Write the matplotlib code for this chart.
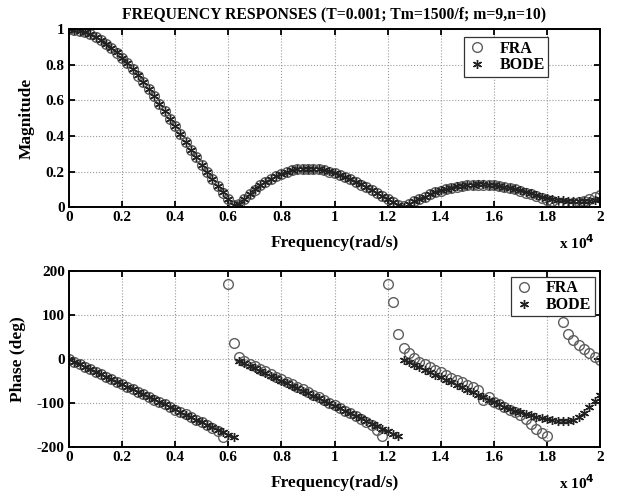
#!/usr/bin/env python3
"""Reponses frequentielles FRA / BODE (module et phase)."""

import matplotlib
import numpy as np

matplotlib.use("Agg")
import matplotlib.pyplot as plt  # noqa: E402
from matplotlib.ticker import FuncFormatter  # noqa: E402


# sampling grid, rad/s
FREQ = np.arange(0, 20001, 200)

BODE_MAG = [
    1.000, 0.998, 0.993, 0.985, 0.974, 0.959, 0.941, 0.920, 0.897, 0.870,
    0.841, 0.810, 0.777, 0.741, 0.704, 0.665, 0.625, 0.583, 0.541, 0.498,
    0.455, 0.411, 0.368, 0.324, 0.281, 0.239, 0.198, 0.158, 0.120, 0.083,
    0.047, 0.013, 0.018, 0.048, 0.075, 0.100, 0.123, 0.143, 0.161, 0.176,
    0.189, 0.200, 0.208, 0.213, 0.216, 0.217, 0.216, 0.213, 0.208, 0.201,
    0.192, 0.182, 0.170, 0.157, 0.143, 0.128, 0.113, 0.097, 0.080, 0.063,
    0.047, 0.030, 0.013, 0.003, 0.018, 0.033, 0.047, 0.060, 0.073, 0.084,
    0.094, 0.103, 0.110, 0.117, 0.121, 0.125, 0.127, 0.128, 0.128, 0.126,
    0.124, 0.120, 0.115, 0.109, 0.102, 0.094, 0.085, 0.077, 0.068, 0.060,
    0.053, 0.047, 0.042, 0.038, 0.035, 0.033, 0.033, 0.034, 0.037, 0.041,
    0.046,
]

FRA_MAG = [
    1.000, 0.998, 0.993, 0.984, 0.973, 0.958, 0.940, 0.919, 0.896, 0.869,
    0.840, 0.809, 0.776, 0.740, 0.703, 0.664, 0.624, 0.582, 0.540, 0.497,
    0.454, 0.410, 0.367, 0.323, 0.280, 0.238, 0.197, 0.157, 0.119, 0.082,
    0.046, 0.015, 0.016, 0.046, 0.074, 0.099, 0.122, 0.142, 0.160, 0.175,
    0.188, 0.199, 0.207, 0.212, 0.215, 0.216, 0.215, 0.212, 0.207, 0.200,
    0.191, 0.181, 0.169, 0.156, 0.142, 0.127, 0.112, 0.096, 0.079, 0.062,
    0.046, 0.029, 0.012, 0.006, 0.017, 0.032, 0.046, 0.059, 0.072, 0.083,
    0.093, 0.102, 0.109, 0.116, 0.120, 0.124, 0.126, 0.127, 0.127, 0.125,
    0.123, 0.119, 0.114, 0.108, 0.101, 0.092, 0.082, 0.072, 0.062, 0.052,
    0.042, 0.033, 0.025, 0.020, 0.019, 0.022, 0.028, 0.036, 0.046, 0.058,
    0.071,
]

BODE_PHASE = [
    0.0, -5.7, -11.5, -17.2, -22.9, -28.6, -34.4, -40.1, -45.8, -51.6,
    -57.3, -63.0, -68.8, -74.5, -80.2, -85.9, -91.7, -97.4, -103.1, -108.9,
    -114.6, -120.3, -126.1, -131.8, -137.5, -143.2, -149.0, -154.7, -160.4, -166.2,
    -171.9, -177.6, -3.3, -9.1, -14.8, -20.5, -26.3, -32.0, -37.7, -43.5,
    -49.2, -54.9, -60.6, -66.4, -72.1, -77.8, -83.6, -89.3, -95.0, -100.7,
    -106.5, -112.2, -117.9, -123.7, -129.4, -135.1, -140.9, -146.6, -152.3, -158.0,
    -163.8, -169.5, -175.2, -1.0, -6.7, -12.4, -18.2, -23.9, -29.6, -35.3,
    -41.1, -46.8, -52.5, -58.3, -64.0, -69.7, -75.4, -81.2, -86.9, -92.6,
    -98.4, -103.0, -108.0, -113.0, -117.0, -121.0, -125.0, -128.0, -131.0, -134.0,
    -136.0, -138.0, -140.0, -141.0, -141.0, -138.0, -132.0, -122.0, -110.0, -96.0,
    -82.0,
]

FRA_PHASE = [
    0, -6, -11, -17, -23, -29, -34, -40, -46, -52,
    -57, -63, -69, -75, -80, -86, -92, -97, -103, -109,
    -115, -121, -126, -132, -138, -144, -150, -156, -164, -178,
    172, 36, 5, -4, -10, -16, -22, -28, -34, -40,
    -46, -51, -57, -63, -69, -75, -81, -87, -93, -99,
    -105, -111, -117, -123, -130, -136, -143, -151, -161, -176,
    170, 129, 58, 26, 13, 2, -6, -12, -18, -24,
    -30, -36, -42, -47, -53, -59, -64, -70, -93, -86,
    -97, -103, -109, -115, -121, -128, -137, -147, -158, -168,
    -176, 160, 125, 85, 58, 43, 32, 23, 13, 5,
    -2,
]

XTICKS = [0, 2000, 4000, 6000, 8000, 10000, 12000, 14000, 16000, 18000, 20000]
MAG_TICKS = [0, 0.2, 0.4, 0.6, 0.8, 1.0]
PHASE_TICKS = [-200, -100, 0, 100, 200]

SERIF = "Liberation Serif"
plt.rcParams["font.family"] = SERIF
plt.rcParams["font.weight"] = "bold"
plt.rcParams["axes.labelweight"] = "bold"
plt.rcParams["axes.titleweight"] = "bold"

ASTERISK = (6, 2, 0)


def short_number(value, _pos=None):
    return "%g" % value


def style_axis(axis, yticks, ylim, ylabel):
    axis.set_xlim(0, 20000)
    axis.set_ylim(*ylim)
    axis.set_xticks(XTICKS)
    axis.set_yticks(yticks)
    axis.xaxis.set_major_formatter(FuncFormatter(lambda v, p: short_number(v / 1e4)))
    axis.yaxis.set_major_formatter(FuncFormatter(short_number))
    axis.tick_params(direction="in", top=True, right=True, length=4, width=1.3,
                     labelsize=11, pad=3)
    for spine in axis.spines.values():
        spine.set_linewidth(1.4)
    axis.grid(True, linestyle=":", color="#9a9a9a", linewidth=0.8)
    axis.set_ylabel(ylabel, fontsize=12.5, labelpad=8)
    axis.set_xlabel("Frequency(rad/s)", fontsize=12.5, labelpad=8)
    axis.text(0.99, -0.2, r"x 10$^{\mathbf{4}}$", transform=axis.transAxes,
              ha="right", va="center", fontsize=11)


figure = plt.figure(figsize=(6.27, 4.98), dpi=100)
mag_axis = figure.add_axes([0.110, 0.584, 0.847, 0.357])
phase_axis = figure.add_axes([0.110, 0.1024, 0.847, 0.353])

circle_style = dict(linestyle="none", marker="o", markersize=7,
                    markerfacecolor="none", markeredgecolor="#5e5e5e",
                    markeredgewidth=1.0)
star_style = dict(linestyle="none", marker=ASTERISK, markersize=6.5,
                  color="#222222", markeredgewidth=1.0)

mag_axis.plot(FREQ, FRA_MAG, label="FRA", **circle_style)
mag_axis.plot(FREQ, BODE_MAG, label="BODE", **star_style)
style_axis(mag_axis, MAG_TICKS, (0, 1), "Magnitude")
mag_axis.set_title("FREQUENCY RESPONSES (T=0.001; Tm=1500/f; m=9,n=10)",
                   fontsize=11.3, pad=8)

phase_axis.plot(FREQ, FRA_PHASE, label="FRA", **circle_style)
phase_axis.plot(FREQ, BODE_PHASE, label="BODE", **star_style)
style_axis(phase_axis, PHASE_TICKS, (-200, 200), "Phase (deg)")

legend_style = dict(loc="upper right", fancybox=False, framealpha=1,
                    edgecolor="#333333", fontsize=11.5, handlelength=1.2,
                    handletextpad=0.8, borderpad=0.2, labelspacing=0.05,
                    borderaxespad=0)
mag_legend = mag_axis.legend(bbox_to_anchor=(0.902, 0.955), **legend_style)
phase_legend = phase_axis.legend(bbox_to_anchor=(0.99, 0.966), **legend_style)
for legend in (mag_legend, phase_legend):
    legend.get_frame().set_linewidth(0.9)
    legend.set_zorder(5)

figure.savefig("out.png", dpi=100)
plt.close(figure)
